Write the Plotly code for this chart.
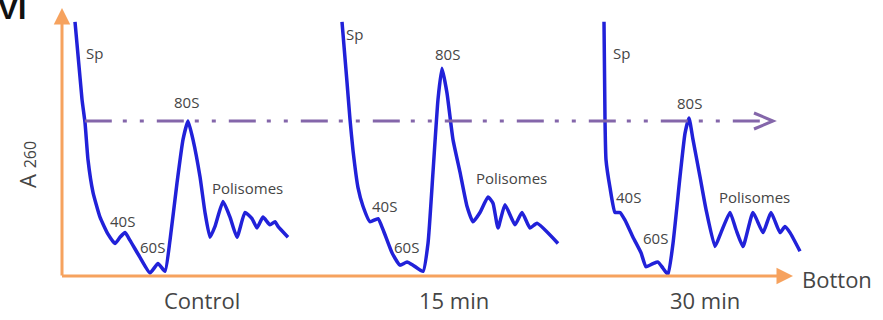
import numpy as np
import plotly.graph_objects as go

# Sucrose-gradient A260 profiles (position along the gradient, relative absorbance;
# 1.0 = height of the 80S peak in the control profile)
control_pos = [0, 7, 10, 13, 18, 25, 33, 40, 45, 50, 55, 65, 75, 83, 90, 95, 102, 108, 113,
               118, 125, 130, 135, 140, 148, 155, 162, 170, 177, 182, 188, 195, 200, 203, 213]
control_a260 = [1.64, 1.14, 0.99, 0.75, 0.54, 0.38, 0.27, 0.21, 0.25, 0.28, 0.23, 0.12, 0.02,
                0.08, 0.03, 0.23, 0.60, 0.88, 1.00, 0.88, 0.64, 0.41, 0.25, 0.32, 0.48, 0.38,
                0.25, 0.41, 0.37, 0.31, 0.38, 0.33, 0.35, 0.32, 0.25]

min15_pos = [0, 5, 8, 11, 16, 21, 28, 36, 41, 50, 58, 65, 71, 81, 86, 91, 96, 100, 105, 111,
             118, 125, 131, 138, 146, 151, 156, 163, 173, 180, 188, 195, 216]
min15_a260 = [1.64, 1.25, 1.01, 0.81, 0.57, 0.45, 0.35, 0.37, 0.30, 0.15, 0.07, 0.09, 0.07,
              0.03, 0.21, 0.67, 1.14, 1.34, 1.18, 0.88, 0.67, 0.45, 0.35, 0.41, 0.51, 0.47,
              0.31, 0.46, 0.33, 0.41, 0.31, 0.34, 0.21]

min30_pos = [0, 1, 2, 6, 11, 16, 21, 29, 37, 42, 49, 54, 59, 64, 69, 76, 81, 85, 89, 96, 102,
             111, 117, 126, 132, 139, 149, 159, 167, 176, 181, 186, 196]
min30_a260 = [1.64, 1.01, 0.75, 0.57, 0.41, 0.41, 0.36, 0.25, 0.15, 0.06, 0.08, 0.09, 0.05,
              0.01, 0.21, 0.64, 0.92, 1.02, 0.88, 0.64, 0.43, 0.19, 0.28, 0.41, 0.30, 0.19,
              0.41, 0.28, 0.41, 0.28, 0.32, 0.28, 0.16]

conditions = ["Control", "15 min", "30 min"]
peak_names = ["Sp", "40S", "60S", "80S", "Polisomes"]

# layout helpers: horizontal offset of each profile on the shared gradient axis
offsets = [13, 280, 542]
PX_PER_A = 155.0          # vertical pixels per absorbance unit
W, H = 883, 320
X0_PX, Y0_PX = 62, 276    # pixel position of the axis origin

BLUE = "#2121D9"
ORANGE = "#F6A25E"
PURPLE = "#8466AA"
TEXT = "#454545"
FONT = "Open Sans"

fig = go.Figure()

profiles = [(control_pos, control_a260), (min15_pos, min15_a260), (min30_pos, min30_a260)]
for (pos, a260), off, name in zip(profiles, offsets, conditions):
    fig.add_trace(go.Scatter(
        x=np.array(pos) + off, y=a260, mode="lines", name=name,
        line=dict(color=BLUE, width=3.5, shape="spline", smoothing=0.45),
        hoverinfo="skip", showlegend=False))

# reference level = control 80S peak, carried across the other profiles
ref_level = max(control_a260[5:])
pos_arr = np.array(control_pos, dtype=float)
a_arr = np.array(control_a260, dtype=float)
# where the descending Sp shoulder of the control crosses the reference level
x_start = float(np.interp(ref_level, a_arr[:4][::-1], pos_arr[:4][::-1])) + offsets[0]
x_tip = 711
fig.add_shape(type="line", x0=x_start, x1=x_tip - 2, y0=ref_level, y1=ref_level,
              line=dict(color=PURPLE, width=3, dash="27px,11px,4px,13px,4px,13px"))
hx, hy = 19, 8 / PX_PER_A
fig.add_shape(type="path",
              path=f"M {x_tip - hx},{ref_level + hy} L {x_tip},{ref_level} L {x_tip - hx},{ref_level - hy}",
              line=dict(color=PURPLE, width=3))

# orange axes with filled arrowheads
y_top = (Y0_PX - 8) / PX_PER_A
x_right = 731
fig.add_annotation(x=0, y=y_top, ax=0, ay=-0.006, xref="x", yref="y", axref="x", ayref="y",
                   text="", showarrow=True, arrowhead=2, arrowsize=1.1, arrowwidth=3,
                   arrowcolor=ORANGE, standoff=0)
fig.add_annotation(x=x_right, y=0, ax=-1.5, ay=0, xref="x", yref="y", axref="x", ayref="y",
                   text="", showarrow=True, arrowhead=2, arrowsize=1.1, arrowwidth=3,
                   arrowcolor=ORANGE, standoff=0)

# peak labels (position relative to each profile's offset)
peak_label_pos = [
    [(19, 1.44), (47, 0.355), (77, 0.19), (111, 1.12), (172, 0.57)],
    [(12, 1.56), (42, 0.45), (64, 0.19), (105, 1.43), (169, 0.63)],
    [(17, 1.44), (24, 0.51), (51, 0.245), (85, 1.115), (150, 0.51)],
]
for off, labels in zip(offsets, peak_label_pos):
    for name, (lx, ly) in zip(peak_names, labels):
        fig.add_annotation(x=lx + off, y=ly, text=name, showarrow=False,
                           font=dict(family=FONT, size=15, color=TEXT))

# condition labels under the gradient axis
cond_label_x = [140, 392, 643]
for cx, name in zip(cond_label_x, conditions):
    fig.add_annotation(x=cx, y=-0.152, text=name, showarrow=False,
                       font=dict(family=FONT, size=22, color=TEXT))

fig.add_annotation(x=738, y=-0.02, text="Botton", showarrow=False, xanchor="left",
                   font=dict(family=FONT, size=22, color=TEXT))
fig.add_annotation(x=-35, y=(Y0_PX - 165) / PX_PER_A, text="A <span style='font-size:16px'>260</span>",
                   textangle=-90, showarrow=False,
                   font=dict(family=FONT, size=22, color=TEXT))
fig.add_annotation(xref="paper", yref="paper", x=-0.004, y=1 - 27 / H, xanchor="left",
                   yanchor="bottom", text="<b>VI</b>", showarrow=False,
                   font=dict(family="Liberation Sans", size=30, color="#111111"))

fig.update_xaxes(range=[-X0_PX, W - X0_PX], visible=False, fixedrange=True)
fig.update_yaxes(range=[-(H - Y0_PX) / PX_PER_A, Y0_PX / PX_PER_A], visible=False, fixedrange=True)
fig.update_layout(width=W, height=H, margin=dict(l=0, r=0, t=0, b=0),
                  plot_bgcolor="white", paper_bgcolor="white", showlegend=False)

fig.write_html("out.html")
